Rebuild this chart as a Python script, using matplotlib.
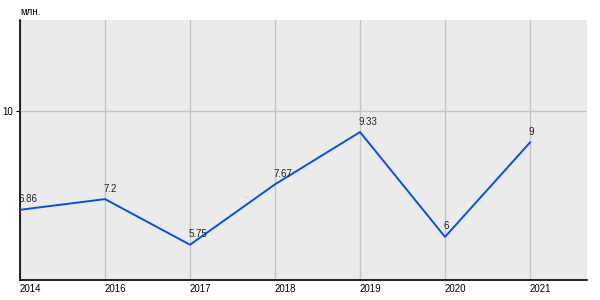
"""Line chart: yearly values in millions."""
import matplotlib
matplotlib.use('Agg')
from matplotlib import pyplot as plt

years = ['2014', '2016', '2017', '2018', '2019', '2020', '2021']
values = [6.86, 7.2, 5.75, 7.67, 9.33, 6, 9]
value_labels = ['6.86', '7.2', '5.75', '7.67', '9.33', '6', '9']

LINE_COLOR = '#0a4fe0'
BG_COLOR = '#ebebeb'
GRID_COLOR = '#c4c4c4'

plt.rcParams['font.family'] = ['Liberation Sans', 'DejaVu Sans']

fig = plt.figure(figsize=(6, 3), dpi=100)
fig.patch.set_facecolor('white')
ax = fig.add_axes([20 / 600, 20 / 300, 567 / 600, 260 / 300])
ax.set_facecolor(BG_COLOR)

x = list(range(len(years)))
ax.plot(x, values, color=LINE_COLOR, linewidth=1.4, zorder=3)

for xi, v, lab in zip(x, values, value_labels):
    ax.annotate(lab, (xi, v), xytext=(-1, 4), textcoords='offset points',
                ha='left', va='bottom', fontsize=7, color='#222222', zorder=4)

ax.set_xlim(0, 6.67)
ax.set_ylim(4.63, 12.89)
ax.set_xticks(x)
ax.set_xticklabels(years, ha='left', fontsize=7)
ax.set_yticks([10])
ax.set_yticklabels(['10'], fontsize=7)
ax.tick_params(axis='x', length=0, pad=3)
ax.tick_params(axis='y', length=3, pad=2)

ax.grid(True, color=GRID_COLOR, linewidth=1)
ax.set_axisbelow(True)
for side in ['top', 'right']:
    ax.spines[side].set_visible(False)
for side in ['left', 'bottom']:
    ax.spines[side].set_color('black')
    ax.spines[side].set_linewidth(1.2)

fig.text(20 / 600, 1 - 12 / 300, 'млн.', fontsize=7, ha='left', va='center')

plt.savefig('out.png', dpi=100)
